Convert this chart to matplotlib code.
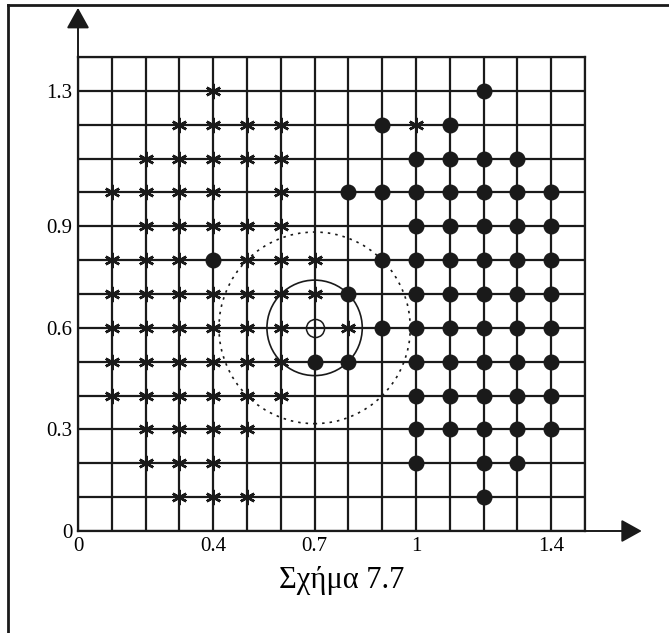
import numpy as np
import matplotlib.pyplot as plt
from matplotlib.patches import Circle
from matplotlib.lines import Line2D

plt.rcParams['font.family'] = ['Liberation Serif', 'DejaVu Serif']

# class "*" points, listed row by row (top to bottom)
star_x = [0.4,
          0.3, 0.4, 0.5, 0.6, 1.0,
          0.2, 0.3, 0.4, 0.5, 0.6,
          0.1, 0.2, 0.3, 0.4, 0.6,
          0.2, 0.3, 0.4, 0.5, 0.6,
          0.1, 0.2, 0.3, 0.5, 0.6, 0.7,
          0.1, 0.2, 0.3, 0.4, 0.5, 0.6, 0.7,
          0.1, 0.2, 0.3, 0.4, 0.5, 0.6, 0.8,
          0.1, 0.2, 0.3, 0.4, 0.5, 0.6,
          0.1, 0.2, 0.3, 0.4, 0.5, 0.6,
          0.2, 0.3, 0.4, 0.5,
          0.2, 0.3, 0.4,
          0.3, 0.4, 0.5]
star_y = [1.3,
          1.2, 1.2, 1.2, 1.2, 1.2,
          1.1, 1.1, 1.1, 1.1, 1.1,
          1.0, 1.0, 1.0, 1.0, 1.0,
          0.9, 0.9, 0.9, 0.9, 0.9,
          0.8, 0.8, 0.8, 0.8, 0.8, 0.8,
          0.7, 0.7, 0.7, 0.7, 0.7, 0.7, 0.7,
          0.6, 0.6, 0.6, 0.6, 0.6, 0.6, 0.6,
          0.5, 0.5, 0.5, 0.5, 0.5, 0.5,
          0.4, 0.4, 0.4, 0.4, 0.4, 0.4,
          0.3, 0.3, 0.3, 0.3,
          0.2, 0.2, 0.2,
          0.1, 0.1, 0.1]

# class "o" points, row by row
dot_x = [1.2,
         0.9, 1.1,
         1.0, 1.1, 1.2, 1.3,
         0.8, 0.9, 1.0, 1.1, 1.2, 1.3, 1.4,
         1.0, 1.1, 1.2, 1.3, 1.4,
         0.4, 0.9, 1.0, 1.1, 1.2, 1.3, 1.4,
         0.8, 1.0, 1.1, 1.2, 1.3, 1.4,
         0.9, 1.0, 1.1, 1.2, 1.3, 1.4,
         0.7, 0.8, 1.0, 1.1, 1.2, 1.3, 1.4,
         1.0, 1.1, 1.2, 1.3, 1.4,
         1.0, 1.1, 1.2, 1.3, 1.4,
         1.0, 1.2, 1.3,
         1.2]
dot_y = [1.3,
         1.2, 1.2,
         1.1, 1.1, 1.1, 1.1,
         1.0, 1.0, 1.0, 1.0, 1.0, 1.0, 1.0,
         0.9, 0.9, 0.9, 0.9, 0.9,
         0.8, 0.8, 0.8, 0.8, 0.8, 0.8, 0.8,
         0.7, 0.7, 0.7, 0.7, 0.7, 0.7,
         0.6, 0.6, 0.6, 0.6, 0.6, 0.6,
         0.5, 0.5, 0.5, 0.5, 0.5, 0.5, 0.5,
         0.4, 0.4, 0.4, 0.4, 0.4,
         0.3, 0.3, 0.3, 0.3, 0.3,
         0.2, 0.2, 0.2,
         0.1]

# query point and neighbourhood radii
query = (0.7, 0.6)
r_near = 0.141
r_far = 0.283

xticks = [0, 0.4, 0.7, 1, 1.4]
xtick_labels = ['0', '0.4', '0.7', '1', '1.4']
yticks = [0, 0.3, 0.6, 0.9, 1.3]
ytick_labels = ['0', '0.3', '0.6', '0.9', '1.3']

fig = plt.figure(figsize=(6.69, 6.33), dpi=100)
ax = fig.add_axes([78 / 669, 102 / 633, 507 / 669, 474 / 633])
ax.set_xlim(0, 1.5)
ax.set_ylim(0, 1.4)

# grid every 0.1 (major + minor so no line goes missing)
ax.set_xticks(np.arange(0, 1.51, 0.1), minor=True)
ax.set_yticks(np.arange(0, 1.41, 0.1), minor=True)
ax.set_xticks(xticks)
ax.set_xticklabels(xtick_labels, fontsize=15)
ax.set_yticks(yticks)
ax.set_yticklabels(ytick_labels, fontsize=15)
ax.grid(which='both', color='#1a1a1a', linewidth=1.6)
ax.tick_params(which='both', length=0)
ax.tick_params(axis='x', pad=4)
ax.tick_params(axis='y', pad=4)
for s in ax.spines.values():
    s.set_linewidth(1.6)
    s.set_color('#1a1a1a')

ax.plot(star_x, star_y, linestyle='none', marker=(6, 2, 0), markersize=11,
        markeredgewidth=1.8, color='#1a1a1a', zorder=3)
ax.plot(dot_x, dot_y, linestyle='none', marker='o', markersize=10.5,
        color='#1a1a1a', zorder=3)
ax.plot(*query, linestyle='none', marker='o', markersize=13,
        markerfacecolor='none', markeredgecolor='#1a1a1a',
        markeredgewidth=1.1, zorder=3)

ax.add_patch(Circle(query, r_near, fill=False, edgecolor='#1a1a1a',
                    linewidth=1.2, zorder=4))
ax.add_patch(Circle(query, r_far, fill=False, edgecolor='#1a1a1a',
                    linewidth=1.2, linestyle=(0, (1.5, 3)), zorder=4))

# axis arrows
arrow = dict(arrowstyle='-|>,head_length=0.45,head_width=0.25',
             mutation_scale=28, color='#1a1a1a', linewidth=1.4,
             shrinkA=0, shrinkB=0)
ax.annotate('', xy=(0, 1.545), xytext=(0, 0), arrowprops=arrow,
            annotation_clip=False)
ax.annotate('', xy=(1.668, 0), xytext=(0, 0), arrowprops=arrow,
            annotation_clip=False)

# outer frame (only top and left edges visible)
fy = 1 - 5 / 633
fx = 8 / 669
fig.add_artist(Line2D([fx, 1], [fy, fy], color='#1a1a1a', linewidth=2))
fig.add_artist(Line2D([fx, fx], [0, fy], color='#1a1a1a', linewidth=2))

fig.text(342 / 669, 1 - 588 / 633, 'Σχήμα 7.7', fontsize=22,
         ha='center', va='baseline')

fig.savefig('out.png', dpi=100)
